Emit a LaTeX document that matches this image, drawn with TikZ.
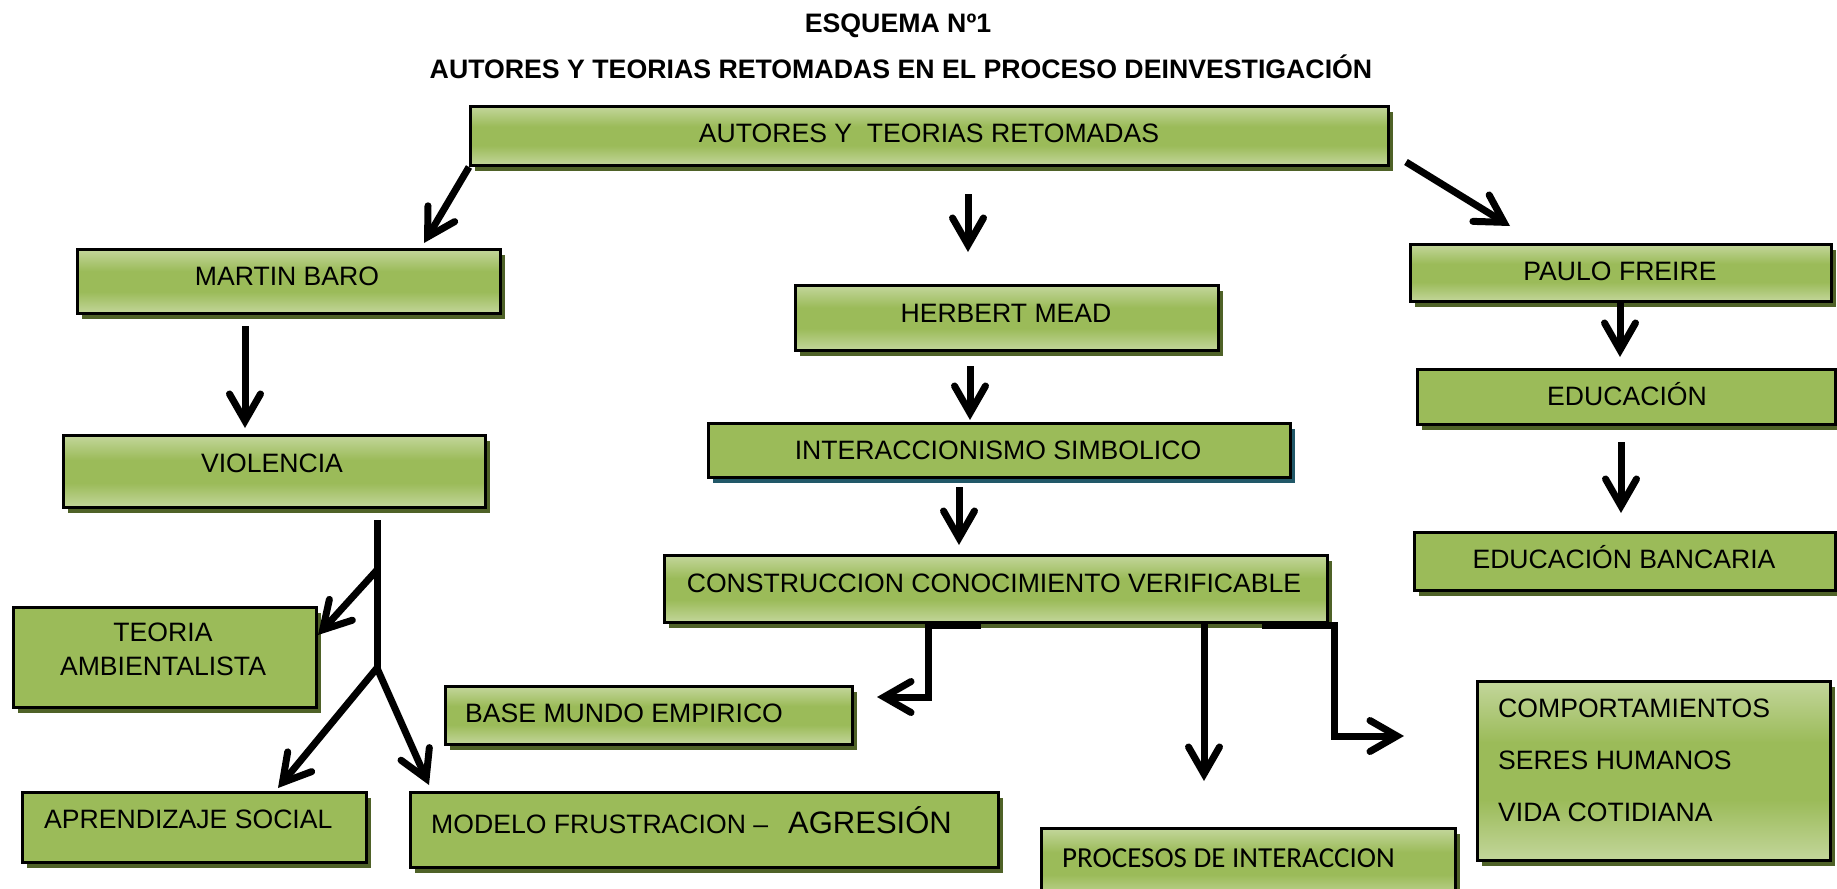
\documentclass[tikz,border=0pt]{standalone}
\usepackage{fontspec}
\setmainfont{Liberation Sans}
\newfontfamily\calib{Carlito}
\usetikzlibrary{arrows.meta,shadows,calc}
\definecolor{lg}{HTML}{C3D69B}
\definecolor{mg}{HTML}{9BBB59}
\definecolor{sh}{HTML}{4F6228}
\definecolor{tsh}{HTML}{215868}
\pgfdeclareverticalshading{boxgrad}{100bp}{color(0bp)=(lg); color(25bp)=(lg); color(42bp)=(mg); color(58bp)=(mg); color(75bp)=(lg); color(100bp)=(lg)}
\tikzset{
  boxbase/.style={draw=black, line width=3pt, inner sep=0pt, anchor=north west,
    drop shadow={shadow xshift=4pt, shadow yshift=-5pt, fill=sh, opacity=1}},
  gradbox/.style={boxbase, shade, shading=boxgrad},
  flatbox/.style={boxbase, fill=mg},
  tealbox/.style={draw=black, line width=3pt, inner sep=0pt, anchor=north west, fill=mg,
    drop shadow={shadow xshift=4pt, shadow yshift=-5pt, fill=tsh, opacity=1}},
  lbl/.style={inner sep=0pt, font=\fontsize{26.6}{32}\selectfont},
  ttl/.style={inner sep=0pt, font=\fontsize{26.7}{31}\selectfont\bfseries},
  arr/.style={line width=7pt, -{Straight Barb[length=27pt,width=31pt,line cap=round]}},
}
\begin{document}
\begin{tikzpicture}[x=1pt,y=-1pt]
\useasboundingbox (0,0) rectangle (1837,889);
% titles
\node[ttl, anchor=base] (t0) at (898,32) {ESQUEMA Nº1};
\node[ttl, anchor=base] (t1) at (901,78) {AUTORES Y TEORIAS RETOMADAS EN EL PROCESO DEINVESTIGACIÓN};
% boxes
\node[gradbox, minimum width=918pt, minimum height=59pt] (top) at (469,105) {};
\node[gradbox, minimum width=423pt, minimum height=64pt] (martin) at (76,248) {};
\node[gradbox, minimum width=422pt, minimum height=72pt] (viol) at (62,434) {};
\node[gradbox, minimum width=423pt, minimum height=65pt] (herbert) at (794,284) {};
\node[tealbox, minimum width=582pt, minimum height=54pt] (inter) at (707,422) {};
\node[gradbox, minimum width=663pt, minimum height=67pt] (constr) at (663,554) {};
\node[gradbox, minimum width=421pt, minimum height=57pt] (paulo) at (1409,243) {};
\node[flatbox, minimum width=418pt, minimum height=55pt] (educ) at (1416,368) {};
\node[flatbox, minimum width=421pt, minimum height=58pt] (banc) at (1413,531) {};
\node[flatbox, minimum width=303pt, minimum height=100pt] (teoria) at (12,606) {};
\node[flatbox, minimum width=344pt, minimum height=70pt] (aprend) at (21,791) {};
\node[flatbox, minimum width=588pt, minimum height=75pt] (modelo) at (409,791) {};
\node[gradbox, minimum width=407pt, minimum height=58pt] (base) at (444,685) {};
\node[gradbox, minimum width=414pt, minimum height=70pt] (procesos) at (1040,827) {};
\node[gradbox, minimum width=353pt, minimum height=179pt] (comport) at (1476,680) {};
% labels
\node[lbl, anchor=base] (l-top) at (929,142) {AUTORES Y~ TEORIAS RETOMADAS};
\node[lbl, anchor=base] (l-martin) at (287,285) {MARTIN BARO};
\node[lbl, anchor=base] (l-viol) at (272,472) {VIOLENCIA};
\node[lbl, anchor=base] (l-herbert) at (1006,322) {HERBERT MEAD};
\node[lbl, anchor=base] (l-inter) at (998,459) {INTERACCIONISMO SIMBOLICO};
\node[lbl, anchor=base] (l-constr) at (994,592) {CONSTRUCCION CONOCIMIENTO VERIFICABLE};
\node[lbl, anchor=base] (l-paulo) at (1620,280) {PAULO FREIRE};
\node[lbl, anchor=base] (l-educ) at (1627,405) {EDUCACIÓN};
\node[lbl, anchor=base] (l-banc) at (1624,568) {EDUCACIÓN BANCARIA};
\node[lbl, anchor=base] (l-teoria1) at (163,641) {TEORIA};
\node[lbl, anchor=base] (l-teoria2) at (163,675) {AMBIENTALISTA};
\node[lbl, anchor=base west] (l-aprend) at (44,828) {APRENDIZAJE SOCIAL};
\node[lbl, anchor=base west] (l-modelo) at (431,833) {MODELO FRUSTRACION –\hspace{20pt}{\fontsize{31}{36}\selectfont AGRESIÓN}};
\node[lbl, anchor=base west] (l-base) at (465,722) {BASE MUNDO EMPIRICO};
\node[inner sep=0pt, anchor=base west, font=\calib\fontsize{29}{34}\selectfont] (l-proc) at (1062,867) {PROCESOS DE INTERACCION};
\node[lbl, anchor=base west] (l-c1) at (1498,717) {COMPORTAMIENTOS};
\node[lbl, anchor=base west] (l-c2) at (1498,769) {SERES HUMANOS};
\node[lbl, anchor=base west] (l-c3) at (1498,821) {VIDA COTIDIANA};
% free-end coordinates
\coordinate (tipMB) at (424,243);
\coordinate (startPF) at (1406,162);
\coordinate (tipPF) at (1510,226);
\coordinate (j1) at (377,570);
\coordinate (j2) at (377,668);
\coordinate (tipTA) at (318,635);
\coordinate (tipAS) at (278,788);
\coordinate (tipMF) at (429,785);
\coordinate (e1) at (981,625);
\coordinate (tipBM) at (877,697);
\coordinate (e2) at (1262,625);
\coordinate (tipCO) at (1404,736);
% arrows
\draw[arr] (top.south west) -- (tipMB);
\draw[arr, shorten <=27pt, shorten >=32pt] (968,0 |- top.south) -- (968,0 |- herbert.north);
\draw[arr] (startPF) -- (tipPF);
\draw[arr, shorten <=11pt, shorten >=6pt] (245,0 |- martin.south) -- (245,0 |- viol.north);
\draw[arr, shorten <=14pt, shorten >=2pt] (970,0 |- herbert.south) -- (970,0 |- inter.north);
\draw[arr, shorten <=8pt, shorten >=9pt] (959,0 |- inter.south) -- (959,0 |- constr.north);
\draw[arr, shorten <=-3pt, shorten >=11pt] (1620,0 |- paulo.south) -- (1620,0 |- educ.north);
\draw[arr, shorten <=16pt, shorten >=18pt] (1621,0 |- educ.south) -- (1621,0 |- banc.north);
\draw[arr, shorten >=46pt] (1204,0 |- constr.south) -- (1204,0 |- procesos.north);
\draw[line width=7pt, shorten <=11pt] (377,0 |- viol.south) -- (j2);
\draw[arr] (j1) -- (tipTA);
\draw[arr] (j2) -- (tipAS);
\draw[arr] (j2) -- (tipMF);
\draw[arr] (e1) -- (928,625) |- (tipBM);
\draw[arr] (e2) -- (1334,625) |- (tipCO);
\end{tikzpicture}
\end{document}
